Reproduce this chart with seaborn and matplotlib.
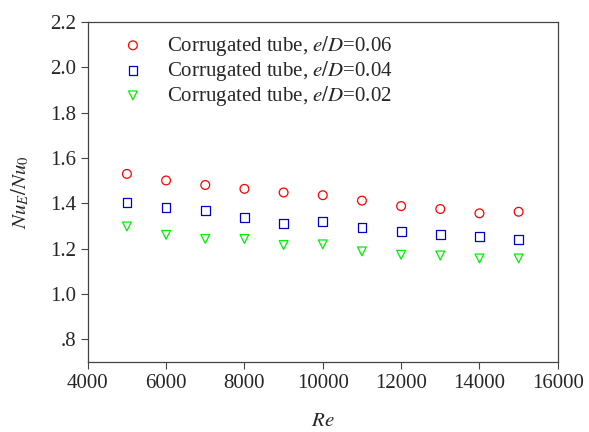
import pandas as pd
import matplotlib
matplotlib.use('Agg')
import matplotlib.pyplot as plt
import seaborn as sns
from matplotlib.ticker import FuncFormatter

re_vals = [5000, 6000, 7000, 8000, 9000, 10000, 11000, 12000, 13000, 14000, 15000]
nu_006 = [1.530, 1.501, 1.481, 1.464, 1.448, 1.436, 1.412, 1.388, 1.375, 1.356, 1.363]
nu_004 = [1.404, 1.382, 1.370, 1.339, 1.310, 1.321, 1.295, 1.276, 1.264, 1.255, 1.241]
nu_002 = [1.298, 1.261, 1.243, 1.243, 1.216, 1.219, 1.188, 1.173, 1.170, 1.157, 1.157]

series = [
    (nu_006, 'Corrugated tube, $e/D$=0.06', 'o', '#ff0000'),
    (nu_004, 'Corrugated tube, $e/D$=0.04', 's', '#0000cc'),
    (nu_002, 'Corrugated tube, $e/D$=0.02', 'v', '#00ee00'),
]

sns.set_style('ticks')
plt.rcParams['font.family'] = ['Liberation Serif', 'DejaVu Serif']
plt.rcParams['mathtext.fontset'] = 'stix'

fig = plt.figure(figsize=(5.89, 4.32), dpi=100)
ax = fig.add_axes([0.149, 0.162, 0.798, 0.787])

for vals, label, marker, color in series:
    df = pd.DataFrame({'Re': re_vals, 'Nu': vals})
    sns.scatterplot(data=df, x='Re', y='Nu', ax=ax, marker=marker, s=40,
                    facecolors='none', edgecolors=color, linewidths=0.9,
                    label=label)

ax.set_xlim(4000, 16000)
ax.set_ylim(0.7, 2.2)
ax.set_xticks(range(4000, 16001, 2000))
ax.set_yticks([0.8, 1.0, 1.2, 1.4, 1.6, 1.8, 2.0, 2.2])
ax.yaxis.set_major_formatter(FuncFormatter(
    lambda v, p: ('%.1f' % v).lstrip('0') if v < 1 else '%.1f' % v))
ax.tick_params(direction='out', length=5, width=0.8, labelsize=15, color='#444444')
for sp in ax.spines.values():
    sp.set_color('#444444')
    sp.set_linewidth(0.9)

ax.set_xlabel('$Re$', fontsize=15, labelpad=14)
ax.set_ylabel('$Nu_E/Nu_0$', fontsize=15, labelpad=13)

ax.legend(loc='upper left', frameon=False, fontsize=15, handletextpad=0.64,
          borderaxespad=0, labelspacing=0.05, bbox_to_anchor=(0.034, 0.99))

fig.savefig('out.png', dpi=100)
